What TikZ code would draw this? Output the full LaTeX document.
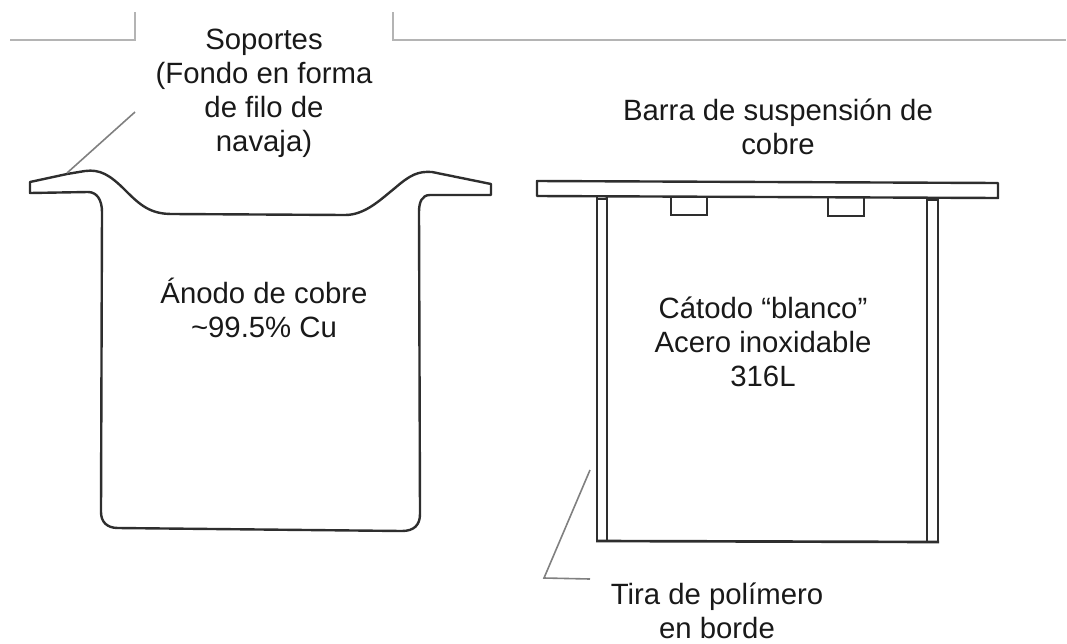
\documentclass[tikz,border=0pt]{standalone}
\usepackage{fontspec}
\setmainfont{Liberation Sans}
\definecolor{ink}{HTML}{2E2E2E}
\definecolor{leader}{HTML}{808080}
\definecolor{rulegrey}{HTML}{B4B4B4}
\tikzset{
  lbl/.style={align=center,inner sep=0pt,text=black!90,font=\fontsize{22}{25.5}\selectfont},
  outline/.style={draw=ink,line width=1.8pt,line join=round},
  thinline/.style={draw=ink,line width=1.4pt},
  heavyline/.style={draw=ink,line width=2pt},
  leaderline/.style={draw=leader,line width=1.2pt},
  frameline/.style={draw=rulegrey,line width=0.8pt}
}
\begin{document}
\begin{tikzpicture}[x=0.75pt,y=-0.75pt]
\useasboundingbox (0,0) rectangle (1067,643);
% top frame
\coordinate (fa) at (10,40); \coordinate (fb) at (135,40); \coordinate (fc) at (135,12);
\coordinate (fd) at (393,12); \coordinate (fe) at (393,40); \coordinate (ff) at (1066,40);
\draw[frameline] (fa) -- (fb) -- (fc);
\draw[frameline] (fd) -- (fe) -- (ff);
% labels
\node[lbl] (sop) at (264,93) {Soportes\\(Fondo en forma\\de filo de\\navaja)};
\node[lbl] (bar) at (778,127) {Barra de suspensión de\\cobre};
\node[lbl] (ano) at (264,308) {Ánodo de cobre\\\textasciitilde 99.5\% Cu};
\node[lbl] (cat) at (763,342) {Cátodo “blanco”\\Acero inoxidable\\316L};
\node[lbl] (tir) at (717,611) {Tira de polímero\\en borde};
% anode
\draw[outline] (30,182) -- (67,174) -- (85,171)
  .. controls (100,169) and (110,175) .. (125,190)
  .. controls (140,205) and (150,214) .. (172,214)
  -- (345,215)
  .. controls (365,215) and (380,200) .. (395,188)
  .. controls (410,175) and (418,171) .. (432,172)
  -- (491,184) -- (491,195) -- (430,195)
  .. controls (422,195) and (419,202) .. (419,212)
  -- (420,514)
  .. controls (420,525) and (414,531) .. (402,531)
  -- (118,528)
  .. controls (107,528) and (101,522) .. (101,512)
  -- (102,212)
  .. controls (102,200) and (97,192) .. (88,192)
  -- (30,193) -- cycle;
% cathode
\draw[outline] (537,181) -- (998,183) -- (998,198) -- (537,196) -- cycle;
\draw[thinline] (597,197) -- (597,541);
\draw[thinline] (607,197) -- (607,541);
\draw[thinline] (927,198) -- (927,541);
\draw[thinline] (938,198) -- (938,541);
\draw[heavyline] (596,541) -- (939,542);
\draw[heavyline] (597,199) -- (607,199);
\draw[heavyline] (927,200) -- (938,200);
\draw[thinline] (671,197) -- (671,215) -- (707,215) -- (707,197);
\draw[thinline] (828,197) -- (828,216) -- (864,216) -- (864,197);
% leaders
\coordinate (la) at (135,112); \coordinate (lb) at (67,173);
\draw[leaderline] (la) -- (lb);
\coordinate (lc) at (590,470); \coordinate (ld) at (544,578); \coordinate (le) at (590,579);
\draw[leaderline] (lc) -- (ld) -- (le);
\end{tikzpicture}
\end{document}
